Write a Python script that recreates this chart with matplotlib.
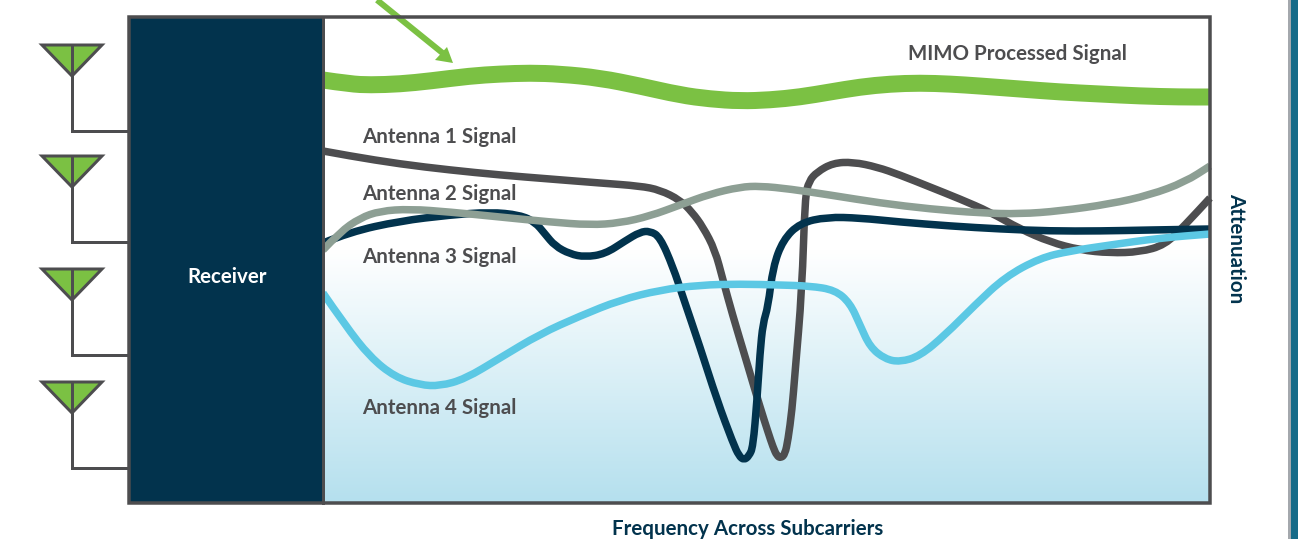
import numpy as np
import matplotlib
matplotlib.use("Agg")
import matplotlib.pyplot as plt
from matplotlib.patches import PathPatch, Polygon, Rectangle
from matplotlib.path import Path

# curves (subcarrier position, attenuation level)
MIMO_X = [323, 350, 370, 400, 430, 470, 500, 530, 560, 600, 640, 680, 710, 740, 770, 800, 830, 860, 890, 920, 950, 980, 1020, 1060, 1100, 1140, 1180, 1210]
MIMO_Y = [80, 84, 85, 84, 81, 76, 74, 73, 74, 78, 86, 95, 99, 101, 100, 97, 92, 87, 84, 83, 84, 86, 89, 92, 94, 96, 97, 97]

ANT1_X = [323, 350, 400, 450, 500, 550, 600, 640, 660, 680, 692, 703, 715, 723, 732, 747, 760, 768, 773, 777, 781, 785, 788, 792, 795, 802, 805, 809, 817, 833, 853, 877, 900, 930, 960, 990, 1020, 1050, 1080, 1110, 1140, 1165, 1185, 1210]
ANT1_Y = [151, 156, 164, 170, 175, 179, 183, 186, 190, 200, 212, 227, 250, 280, 313, 363, 407, 432, 447, 456, 458, 454, 440, 410, 373, 290, 197, 181, 172, 163, 162, 167, 175, 187, 199, 212, 229, 242, 250, 253, 252, 245, 225, 198]

ANT2_X = [323, 340, 360, 380, 410, 450, 500, 550, 590, 620, 650, 680, 710, 740, 760, 790, 830, 880, 930, 980, 1020, 1060, 1110, 1150, 1185, 1210]
ANT2_Y = [250, 232, 218, 211, 209, 212, 217, 222, 225, 223, 216, 205, 194, 187, 186, 189, 195, 203, 209, 213, 214, 211, 204, 195, 182, 166]

ANT3_X = [323, 350, 400, 450, 490, 520, 535, 545, 555, 570, 585, 605, 625, 640, 650, 660, 673, 683, 700, 717, 733, 739, 744, 749, 753, 757, 760, 763, 768, 773, 783, 800, 827, 860, 900, 950, 1000, 1050, 1100, 1150, 1210]
ANT3_Y = [243, 232, 221, 215, 212, 215, 222, 234, 246, 254, 257, 254, 241, 232, 231, 237, 267, 297, 347, 400, 443, 456, 460, 456, 447, 400, 353, 323, 307, 267, 240, 223, 217, 218, 222, 226, 229, 231, 231, 230, 229]

ANT4_X = [323, 345, 370, 395, 420, 440, 465, 500, 540, 580, 620, 660, 700, 740, 780, 810, 835, 850, 860, 870, 885, 900, 920, 945, 975, 1005, 1040, 1070, 1110, 1160, 1210]
ANT4_Y = [293, 325, 357, 377, 385, 386, 379, 358, 334, 316, 300, 290, 285, 284, 285, 286, 290, 303, 325, 347, 359, 362, 356, 335, 305, 277, 258, 251, 245, 238, 234]

SIGNAL_LABELS = ["Antenna 1 Signal", "Antenna 2 Signal", "Antenna 3 Signal", "Antenna 4 Signal"]
LABEL_Y = [137, 194, 257, 408]
ANTENNA_TOP = [45, 156, 269, 382]

GREEN = "#7bc143"
GRAY = "#4d4d4f"
SAGE = "#8d9f94"
NAVY = "#02334d"
SKY = "#5cc8e4"

plt.rcParams["font.family"] = ["Lato", "DejaVu Sans"]
TEXT_SIZE = 14.8

fig = plt.figure(figsize=(12.98, 5.39), dpi=100)
ax = fig.add_axes([0, 0, 1, 1])
ax.axis("off")

# background fade in the plot box
fade = np.linspace(0, 1, 256)[:, None, None]
low = np.array([0xb5, 0xe0, 0xee]) / 255
grad = (1 - fade) * np.ones(3) + fade * low
ax.imshow(grad, extent=(323, 1210, 502, 250), aspect="auto", zorder=1)
ax.set_xlim(0, 1298)
ax.set_ylim(539, 0)

px = 0.72  # points per pixel at dpi 100


def draw_signal(xs, ys, color, width, z):
    # read points become quadratic control points so the curve stays smooth
    pts = list(zip(xs, ys))
    verts = [pts[0]]
    codes = [Path.MOVETO]
    for a, b in zip(pts[1:-1], pts[2:]):
        verts += [a, ((a[0] + b[0]) / 2, (a[1] + b[1]) / 2)]
        codes += [Path.CURVE3, Path.CURVE3]
    verts.append(pts[-1])
    codes.append(Path.LINETO)
    ax.add_patch(PathPatch(Path(verts, codes), facecolor="none", edgecolor=color,
                           lw=width * px, capstyle="butt", joinstyle="round", zorder=z))


draw_signal(MIMO_X, MIMO_Y, GREEN, 17, 3)
draw_signal(ANT1_X, ANT1_Y, GRAY, 7.5, 3)
draw_signal(ANT3_X, ANT3_Y, NAVY, 7.5, 4)
draw_signal(ANT4_X, ANT4_Y, SKY, 7.5, 5)
draw_signal(ANT2_X, ANT2_Y, SAGE, 7.5, 6)
ax.plot([377, 445], [0, 55], color=GREEN, lw=6 * px, solid_capstyle="butt", zorder=7)
ax.add_patch(Polygon([(453, 63), (435, 60), (447, 47)], closed=True, color=GREEN, lw=0, zorder=7))

# receiver block and frame
ax.add_patch(Rectangle((129, 17), 194, 486, facecolor=NAVY, edgecolor="none", zorder=8))
ax.plot([323, 323], [17, 503], color=GRAY, lw=3 * px, zorder=9)
ax.add_patch(Rectangle((129, 17), 1081, 486, facecolor="none", edgecolor=GRAY, lw=3.5 * px, zorder=9))

# antennas
for top in ANTENNA_TOP:
    ax.add_patch(Polygon([(42, top), (102, top), (72, top + 31)], closed=True, facecolor=GREEN,
                         edgecolor=GRAY, lw=3 * px, zorder=3))
    ax.plot([72, 72, 128], [top, top + 85.5, top + 85.5], color=GRAY, lw=3 * px, zorder=4,
            solid_joinstyle="miter")

# side strip of the page
ax.add_patch(Rectangle((1288, 0), 3, 539, facecolor="#a4a8ad", edgecolor="none", zorder=2))
ax.add_patch(Rectangle((1291, 0), 7, 539, facecolor="#176b88", edgecolor="none", zorder=2))

for label, y in zip(SIGNAL_LABELS, LABEL_Y):
    ax.text(362, y, label, color=GRAY, fontsize=TEXT_SIZE, fontweight="bold", va="center", zorder=10)
ax.text(908, 54, "MIMO Processed Signal", color=GRAY, fontsize=TEXT_SIZE, fontweight="bold", va="center", zorder=10)
ax.text(227, 277, "Receiver", color="white", fontsize=TEXT_SIZE, fontweight="bold", ha="center", va="center", zorder=10)
ax.text(748, 529, "Frequency Across Subcarriers", color=NAVY, fontsize=TEXT_SIZE, fontweight="bold",
        ha="center", va="center", zorder=10)
ax.text(1236, 248, "Attenuation", color=NAVY, fontsize=TEXT_SIZE, fontweight="bold", rotation=270,
        ha="center", va="center", zorder=10)

fig.savefig("out.png", dpi=100)
